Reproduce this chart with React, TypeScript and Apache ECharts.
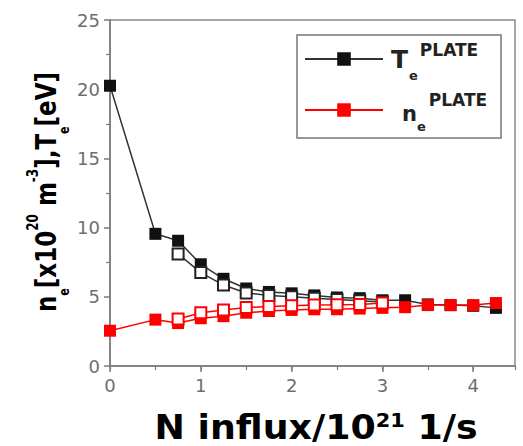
import React, { useEffect, useRef } from "react";
import * as echarts from "echarts";

// N influx [10^21 1/s]
const xFilled = [0, 0.5, 0.75, 1.0, 1.25, 1.5, 1.75, 2.0, 2.25, 2.5, 2.75, 3.0, 3.25, 3.5, 3.75, 4.0, 4.25];
const teFilled = [20.25, 9.55, 9.05, 7.35, 6.3, 5.6, 5.35, 5.25, 5.1, 4.95, 4.9, 4.75, 4.75, 4.45, 4.4, 4.35, 4.2];
const neFilled = [2.55, 3.35, 3.1, 3.45, 3.6, 3.85, 3.97, 4.05, 4.1, 4.1, 4.15, 4.2, 4.25, 4.4, 4.4, 4.4, 4.55];
const xOpen = [0.75, 1.0, 1.25, 1.5, 1.75, 2.0, 2.25, 2.5, 2.75, 3.0];
const teOpen = [8.1, 6.75, 5.85, 5.27, 5.1, 5.0, 4.9, 4.8, 4.72, 4.62];
const neOpen = [3.4, 3.85, 4.05, 4.22, 4.3, 4.35, 4.4, 4.42, 4.45, 4.55];

const legendNames = ["Te", "ne"];
const xMin = 0;
const xMax = 4.46;
const xInterval = 1;
const yMin = 0;
const yMax = 25;
const yInterval = 5;

const pairs = (xs: number[], ys: number[]) => xs.map((x, i) => [x, ys[i]]);

const FONT = "DejaVu Sans";

export default function App() {
  const ref = useRef<HTMLDivElement>(null);
  useEffect(() => {
    if (!ref.current) return;
    const chart = echarts.init(ref.current, undefined, { renderer: "svg" });
    const axisGray = "#7a7a7a";
    const labelGray = "#6e6e6e";
    const tok = (size: number, extra: any = {}) => ({
      fontFamily: FONT,
      fontWeight: "bold",
      fontSize: size,
      color: "#222",
      ...extra,
    });
    const option: any = {
      animation: false,
      backgroundColor: "#fff",
      grid: {
        left: 110,
        right: 8,
        top: 20,
        bottom: 80,
        show: true,
        borderColor: "#8a8a8a",
        borderWidth: 1.5,
        backgroundColor: "transparent",
      },
      xAxis: [
        {
          type: "value",
          min: xMin,
          max: xMax,
          interval: xInterval,
          axisLine: { show: true, lineStyle: { color: axisGray, width: 1.5 } },
          axisTick: { show: true, inside: false, length: 6, lineStyle: { color: axisGray, width: 1.5 } },
          axisLabel: {
            color: labelGray,
            fontSize: 18,
            fontFamily: FONT,
            margin: 10,
            showMaxLabel: false,
            formatter: (v: number) => (Number.isInteger(v) ? String(v) : ""),
          },
          splitLine: { show: false },
        },
        {
          type: "value",
          position: "bottom",
          min: xMin,
          max: xMax,
          interval: xInterval / 2,
          axisLine: { show: false },
          axisTick: { show: true, length: 4, lineStyle: { color: axisGray, width: 1.2 } },
          axisLabel: { show: false },
          splitLine: { show: false },
        },
      ],
      yAxis: {
        type: "value",
        min: yMin,
        max: yMax,
        interval: yInterval,
        axisLine: { show: true, lineStyle: { color: axisGray, width: 1.5 } },
        axisTick: { show: true, inside: false, length: 6, lineStyle: { color: axisGray, width: 1.5 } },
        minorTick: { show: true, splitNumber: 2, length: 4, lineStyle: { color: axisGray, width: 1.2 } },
        axisLabel: { color: labelGray, fontSize: 18, fontFamily: FONT, margin: 10 },
        splitLine: { show: false },
      },
      legend: {
        orient: "vertical",
        left: 304,
        top: 39,
        padding: 0,
        itemWidth: 78,
        itemHeight: 17,
        itemGap: 8,
        data: legendNames,
        formatter: (name: string) =>
          name === "Te" ? "{T|T}{sub|e}{sup|PLATE}" : "{n|n}{sub2|e}{sup2|PLATE}",
        textStyle: {
          padding: [0, 0, 0, 3],
          rich: {
            T: tok(25, { lineHeight: 40 }),
            sub: tok(13, { lineHeight: 1, verticalAlign: "top", padding: [30, 0, 0, 1] }),
            sup: tok(17, { lineHeight: 1, verticalAlign: "top", padding: [2, 0, 0, 2] }),
            n: tok(21, { lineHeight: 40, verticalAlign: "top", padding: [13, 0, 0, 11] }),
            sub2: tok(13, { lineHeight: 1, verticalAlign: "top", padding: [30, 0, 0, 0] }),
            sup2: tok(17, { lineHeight: 1, verticalAlign: "top", padding: [1, 0, 0, 3] }),
          },
        },
      },
      graphic: [
        {
          type: "rect",
          shape: { x: 297, y: 35, width: 204, height: 103 },
          style: { fill: "none", stroke: "#777", lineWidth: 1.5 },
          silent: true,
        },
        {
          type: "text",
          x: 46,
          y: 192,
          rotation: Math.PI / 2,
          scaleY: 1.25,
          style: {
            text: "{m|n}{sub|e}{m|[x10}{sup|20}{m| m}{sup|-3}{m|],T}{sub|e}{m|[eV]}",
            align: "center",
            verticalAlign: "middle",
            rich: {
              m: { fontFamily: FONT, fontWeight: "bold", fontSize: 23, color: "#333", lineHeight: 34 },
              sub: { fontFamily: FONT, fontWeight: "bold", fontSize: 11, color: "#333", lineHeight: 1, verticalAlign: "top", padding: [26, 0, 0, 0] },
              sup: { fontFamily: FONT, fontWeight: "bold", fontSize: 12, color: "#333", lineHeight: 1, verticalAlign: "top", padding: [0, 0, 0, 0] },
            },
          },
        },
        {
          type: "text",
          x: 316,
          y: 428,
          scaleX: 1.1,
          style: {
            text: "{a|N influx/10}{s|21}{a| 1/s}",
            align: "center",
            verticalAlign: "middle",
            rich: {
              a: { fontFamily: FONT, fontWeight: "bold", fontSize: 33, color: "#000", lineHeight: 34 },
              s: { fontFamily: FONT, fontWeight: "bold", fontSize: 19, color: "#000", lineHeight: 1, verticalAlign: "top", padding: [0, 0, 0, 0] },
            },
          },
        },
      ],
      series: [
        {
          name: "Te",
          type: "line",
          data: pairs(xFilled, teFilled),
          symbol: "rect",
          symbolSize: 12,
          itemStyle: { color: "#111" },
          lineStyle: { color: "#333", width: 1.5 },
        },
        {
          name: "Te (open)",
          type: "line",
          data: pairs(xOpen, teOpen),
          symbol: "emptyRect",
          symbolSize: 11,
          itemStyle: { color: "#222", borderWidth: 1.5 },
          lineStyle: { color: "#333", width: 1.5 },
        },
        {
          name: "ne",
          type: "line",
          data: pairs(xFilled, neFilled),
          symbol: "rect",
          symbolSize: 12,
          itemStyle: { color: "#ff0000" },
          lineStyle: { color: "#ff0000", width: 1.5 },
        },
        {
          name: "ne (open)",
          type: "line",
          data: pairs(xOpen, neOpen),
          symbol: "emptyRect",
          symbolSize: 11,
          itemStyle: { color: "#ff0000", borderWidth: 1.5 },
          lineStyle: { color: "#ff0000", width: 1.5 },
        },
      ],
    };
    chart.setOption(option);
    return () => chart.dispose();
  }, []);
  return (
    <div
      ref={ref}
      style={{ position: "fixed", left: 0, top: 0, width: 523, height: 446, background: "#fff" }}
    />
  );
}
